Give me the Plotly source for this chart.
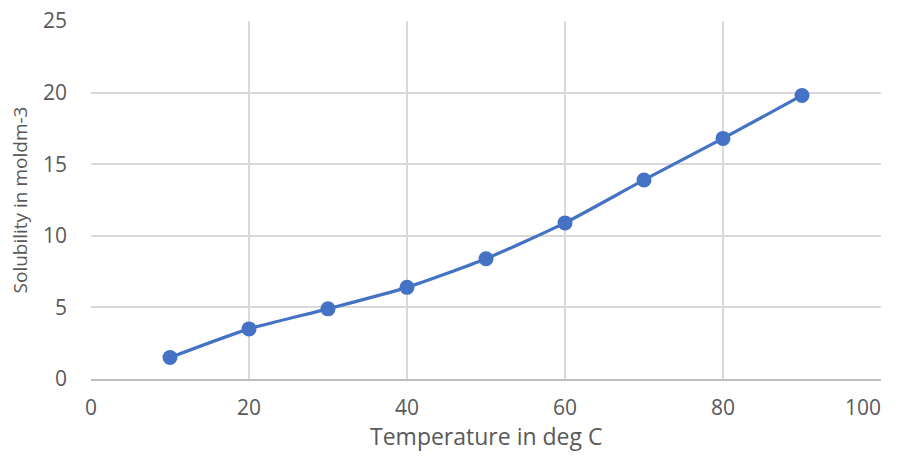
import plotly.graph_objects as go

temperature = [10, 20, 30, 40, 50, 60, 70, 80, 90]
solubility = [1.5, 3.5, 4.9, 6.4, 8.4, 10.9, 13.9, 16.8, 19.8]

x_tick_vals = [0, 20, 40, 60, 80, 100]
x_tick_text = ["0", "20", "40", "60", "80", ""]
x_last_tick = [100]
y_tick_vals = [0, 5, 10, 15, 20, 25]

x_title = "Temperature in deg C"
y_title = "Solubility in moldm-3"

font_family = "Open Sans, Lato, sans-serif"
grey = "#595959"
tick_font = dict(size=21, color=grey)

fig = go.Figure()
fig.add_trace(go.Scatter(
    x=temperature, y=solubility,
    mode="lines+markers",
    line=dict(color="#4472C4", width=3.2, shape="spline", smoothing=0.6),
    marker=dict(color="#4472C4", size=15),
    showlegend=False,
    cliponaxis=False,
))
fig.add_trace(go.Scatter(
    x=x_last_tick, y=[None], xaxis="x2", yaxis="y", mode="markers",
    showlegend=False, hoverinfo="skip",
))

fig.update_layout(
    width=902, height=462,
    margin=dict(l=91, r=21, t=21, b=83),
    paper_bgcolor="white", plot_bgcolor="white",
    font=dict(family=font_family, color=grey, size=20),
    annotations=[dict(
        text=x_title, xref="paper", yref="paper", x=0.5, y=0,
        xanchor="center", yanchor="middle", yshift=-57, showarrow=False,
        font=dict(size=23, color=grey),
    )],
    xaxis=dict(
        range=[0, 100], anchor="y",
        tickmode="array", tickvals=x_tick_vals, ticktext=x_tick_text,
        showgrid=True, gridcolor="#d9d9d9", gridwidth=1.5,
        zeroline=False, showline=True, linecolor="#bfbfbf", linewidth=1.5,
        ticks="", ticklabelstandoff=9, tickfont=tick_font,
        automargin=False,
    ),
    xaxis2=dict(
        overlaying="x", anchor="y", side="bottom", range=[0, 100],
        tickmode="array", tickvals=x_last_tick,
        ticklabelposition="outside left",
        showgrid=False, zeroline=False, showline=False, ticks="",
        ticklabelstandoff=14, tickfont=tick_font,
        automargin=False,
    ),
    yaxis=dict(
        range=[0, 25],
        tickmode="array", tickvals=y_tick_vals,
        showgrid=True, gridcolor="#d9d9d9", gridwidth=1.5,
        zeroline=False, showline=False,
        ticks="", ticklabelstandoff=23, tickfont=tick_font,
        automargin=False,
        title=dict(text=y_title, font=dict(size=19, color=grey), standoff=10),
    ),
)

fig.write_html(
    "out.html",
    config={"displayModeBar": False},
    post_script="document.body.style.margin='0';document.body.style.overflow='hidden';",
)
